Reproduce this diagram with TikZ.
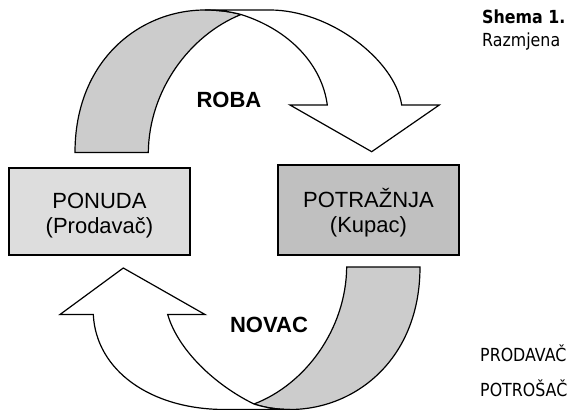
\documentclass[tikz,border=0pt]{standalone}
\usepackage{fontspec}
\setmainfont{Liberation Sans}
\newfontfamily\tahomalike[FakeStretch=0.88]{DejaVu Sans}
\definecolor{backgray}{RGB}{204,204,204}
\definecolor{boxlight}{RGB}{221,221,221}
\definecolor{boxdark}{RGB}{192,192,192}
\begin{document}
\begin{tikzpicture}[x=1pt,y=-1pt,line join=miter,
  arrowline/.style={draw=black,line width=1.2pt},
  backfill/.style={arrowline,fill=backgray},
  frontfill/.style={arrowline,fill=white},
  boxstyle/.style={draw=black,line width=1.3pt,minimum width=181pt,inner sep=0pt},
  boxtext/.style={font=\fontsize{22}{25}\selectfont,anchor=base,inner sep=0pt},
  flowlabel/.style={font=\bfseries\fontsize{22}{26}\selectfont,anchor=base,inner sep=0pt},
  sidetext/.style={font=\tahomalike\fontsize{18}{20}\selectfont,anchor=base west,inner sep=0pt}]
\useasboundingbox (0,0) rectangle (574,410);

% top arrow (ROBA)
\path[backfill] (75,152.5) .. controls (75,60) and (140,10) .. (205,10)
  .. controls (220,10) and (232,12) .. (241,14.5)
  .. controls (190,35) and (149,90) .. (148.3,152.5) -- cycle;
\path[frontfill] (205,10) -- (270,10) .. controls (330,10) and (395,60) .. (401.7,105)
  -- (439.3,105) -- (371.7,151.7) -- (290,105) -- (327.3,105)
  .. controls (322,65) and (290,30) .. (241,14.5)
  .. controls (232,12) and (220,10) .. (205,10) -- cycle;

% bottom arrow (NOVAC)
\path[backfill] (420,267) .. controls (420,359.5) and (355,409.5) .. (290,409.5)
  .. controls (275,409.5) and (263,407) .. (254,404)
  .. controls (305,384.5) and (346,329.5) .. (346.7,267) -- cycle;
\path[frontfill] (290,409.5) -- (225,409.5) .. controls (150,409.5) and (96,370) .. (93.3,314.5)
  -- (60,314.5) -- (123.3,268) -- (205,314.5) -- (167.7,314.5)
  .. controls (178,350) and (215,385) .. (254,404)
  .. controls (263,407) and (275,409.5) .. (290,409.5) -- cycle;

% boxes
\node[boxstyle,fill=boxlight,minimum height=87pt] (ponuda) at (99.5,211.5) {};
\node[boxstyle,fill=boxdark,minimum height=90pt] (potraznja) at (368.5,210) {};
\node[boxtext] (ponudaA) at (99.5,208.5) {PONUDA};
\node[boxtext] (ponudaB) at (99.5,233.5) {(Prodavač)};
\node[boxtext] (potrA) at (368.5,207.5) {POTRAŽNJA};
\node[boxtext] (potrB) at (368.5,232.5) {(Kupac)};

% flow labels
\node[flowlabel] (roba) at (229,107) {ROBA};
\node[flowlabel] (novac) at (269,332.5) {NOVAC};

% side texts
\node[sidetext,font=\tahomalike\bfseries\fontsize{18}{20}\selectfont] (shema) at (482,23) {Shema 1.};
\node[sidetext] (razmjena) at (482,46) {Razmjena};
\node[sidetext] (prodavac) at (480,361) {PRODAVAČ};
\node[sidetext] (potrosac) at (480,396.5) {POTROŠAČ};
\end{tikzpicture}
\end{document}
